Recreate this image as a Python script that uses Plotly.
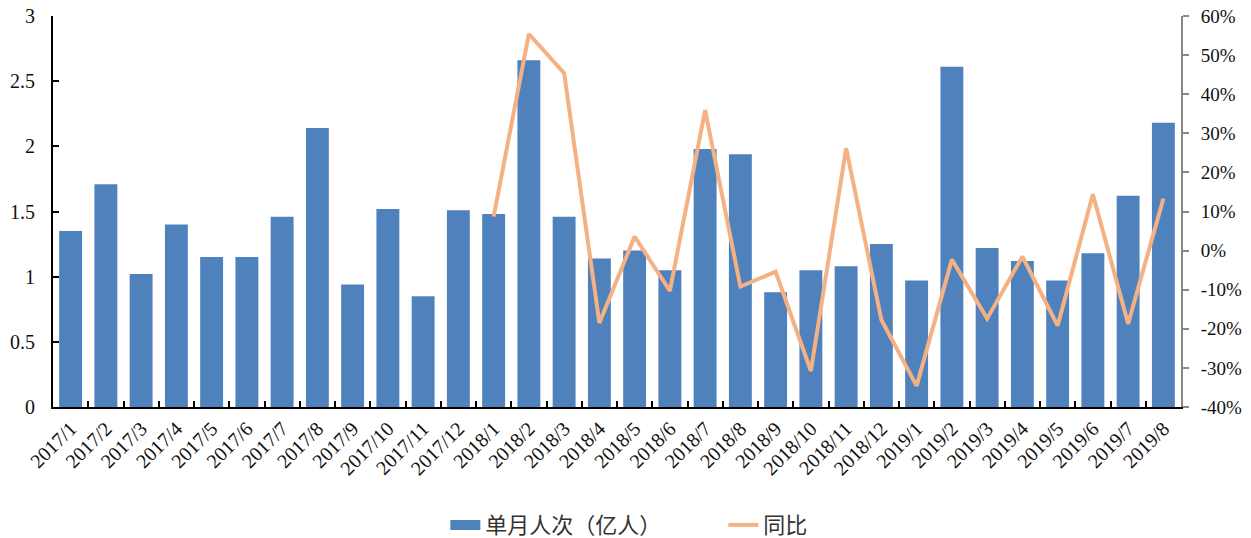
import plotly.graph_objects as go

categories = ["2017/1","2017/2","2017/3","2017/4","2017/5","2017/6","2017/7","2017/8","2017/9","2017/10","2017/11","2017/12",
              "2018/1","2018/2","2018/3","2018/4","2018/5","2018/6","2018/7","2018/8","2018/9","2018/10","2018/11","2018/12",
              "2019/1","2019/2","2019/3","2019/4","2019/5","2019/6","2019/7","2019/8"]
monthly = [1.35, 1.71, 1.02, 1.40, 1.15, 1.15, 1.46, 2.14, 0.94, 1.52, 0.85, 1.51,
           1.48, 2.66, 1.46, 1.14, 1.20, 1.05, 1.98, 1.94, 0.88, 1.05, 1.08, 1.25,
           0.97, 2.61, 1.22, 1.12, 0.97, 1.18, 1.62, 2.18]
yoy_categories = categories[12:]
yoy = [8.7, 55.4, 45.4, -18.5, 3.6, -10.3, 35.9, -9.2, -5.4, -30.8, 26.2, -17.7,
       -34.6, -2.3, -17.4, -1.5, -19.2, 14.4, -18.7, 13.3]

left_ticks = [0, 0.5, 1, 1.5, 2, 2.5, 3]
left_ticktext = ["0", "0.5", "1", "1.5", "2", "2.5", "3"]
right_ticks = [-40, -30, -20, -10, 0, 10, 20, 30, 40, 50, 60]
right_ticktext = [f"{v}%" for v in right_ticks]

serif = "Liberation Serif, Times New Roman, Noto Sans CJK SC, serif"
BAR_COLOR = "#4F81BD"
LINE_COLOR = "#F4B183"

fig = go.Figure()
fig.add_trace(go.Bar(x=categories, y=monthly, name="单月人次（亿人）", showlegend=False,
                     marker=dict(color=BAR_COLOR, line=dict(width=0)), yaxis="y"))
fig.add_trace(go.Scatter(x=yoy_categories, y=yoy, name="同比", mode="lines", showlegend=False,
                         line=dict(color=LINE_COLOR, width=4), yaxis="y2"))
# legend entries styled to mimic the wide swatches of the reference
fig.add_trace(go.Scatter(x=[None], y=[None], name="单月人次（亿人）", mode="lines",
                         line=dict(color=BAR_COLOR, width=10), yaxis="y"))
fig.add_trace(go.Scatter(x=[None], y=[None], name="同比", mode="lines",
                         line=dict(color=LINE_COLOR, width=4), yaxis="y2"))

fig.update_layout(
    width=1251, height=538,
    margin=dict(l=53, r=70, t=16, b=131, autoexpand=False),
    paper_bgcolor="white", plot_bgcolor="white",
    bargap=0.35,
    font=dict(family=serif, size=18, color="#222"),
    showlegend=True,
    legend=dict(orientation="h", xref="container", x=0.356, xanchor="left",
                yref="container", y=0.024, yanchor="middle",
                font=dict(family="Liberation Serif, Noto Sans CJK SC, serif", size=22, color="#333"),
                entrywidth=233, traceorder="normal"),
    xaxis=dict(type="category", categoryorder="array", categoryarray=categories, automargin=False,
               tickangle=-45, tickson="boundaries", ticks="inside", ticklen=6,
               tickcolor="black", tickwidth=2, showline=True, linecolor="black", linewidth=2,
               showgrid=False, tickfont=dict(size=20, color="#111"), range=[-0.5, 31.5],
               ticklabeloverflow="allow"),
    yaxis=dict(range=[0, 3], tickvals=left_ticks, ticktext=left_ticktext, automargin=False,
               ticks="inside", ticklen=6, tickcolor="black", tickwidth=2,
               showline=True, linecolor="black", linewidth=2, showgrid=False, zeroline=False,
               tickfont=dict(size=20, color="#111"), ticklabelstandoff=12,
               ticklabeloverflow="allow"),
    yaxis2=dict(range=[-40, 60], tickvals=right_ticks, ticktext=right_ticktext, automargin=False,
                overlaying="y", side="right", ticks="outside", ticklen=6,
                tickcolor="#888", tickwidth=2, showline=True, linecolor="#888", linewidth=2,
                showgrid=False, zeroline=False, tickfont=dict(size=19, color="#111"),
                ticklabelstandoff=8, ticklabeloverflow="allow"),
)

fig.write_html("out.html", config={"displayModeBar": False},
               post_script="document.body.style.margin='0';")
